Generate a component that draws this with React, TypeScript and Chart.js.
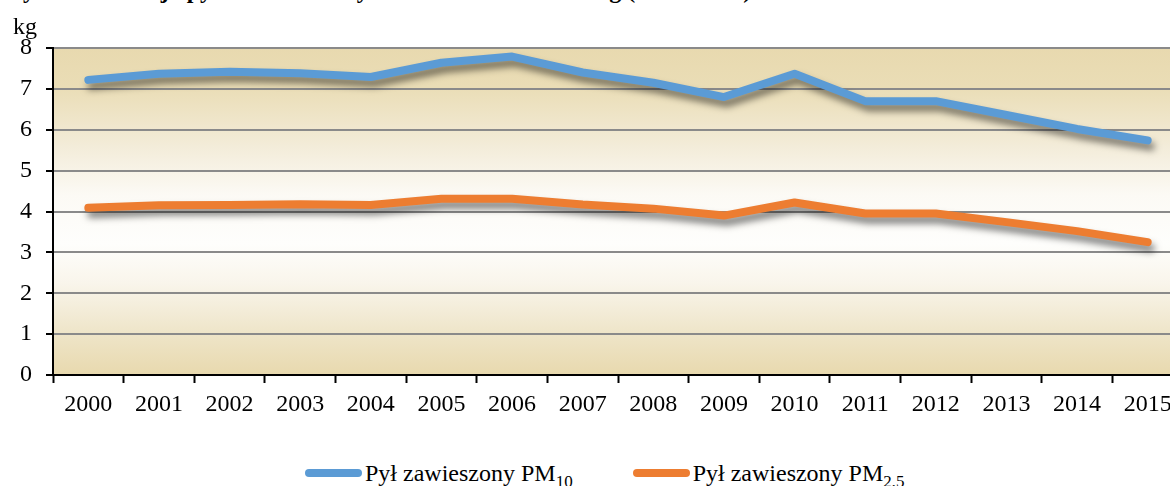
import React, { useEffect, useRef } from "react";
import { Chart, registerables } from "chart.js";

Chart.register(...registerables);

const years = ["2000","2001","2002","2003","2004","2005","2006","2007","2008","2009","2010","2011","2012","2013","2014","2015"];
const pm10 = [7.22, 7.37, 7.42, 7.38, 7.29, 7.64, 7.79, 7.4, 7.15, 6.8, 7.37, 6.7, 6.7, 6.36, 6.02, 5.74];
const pm25 = [4.09, 4.15, 4.16, 4.18, 4.16, 4.31, 4.31, 4.17, 4.07, 3.9, 4.22, 3.95, 3.95, 3.74, 3.52, 3.25];
const seriesNames = ["Pył zawieszony PM", "Pył zawieszony PM"];
const seriesSubs = ["10", "2,5"];
const seriesColors = ["#5B9BD5", "#ED7D31"];
const yTicks = [0, 1, 2, 3, 4, 5, 6, 7, 8];
const unitLabel = "kg";
const titleText = "Wykres 5. Emisja pyłów zawieszonych na 1 mieszkańca w kg (2000–2015)";

const FONT = "'Liberation Serif', 'Times New Roman', serif";

const bgPlugin = {
  id: "bgGradient",
  beforeDraw(chart: any) {
    const { ctx, chartArea } = chart;
    if (!chartArea) return;
    const { left, top, right, bottom } = chartArea;
    const g = ctx.createLinearGradient(0, top, 0, bottom);
    g.addColorStop(0, "#E8D9AF");
    g.addColorStop(0.12, "#EADDB6");
    g.addColorStop(0.3, "#F3ECD9");
    g.addColorStop(0.45, "#FCFAF5");
    g.addColorStop(0.6, "#FEFEFC");
    g.addColorStop(0.72, "#F9F5EB");
    g.addColorStop(0.86, "#EFE6CB");
    g.addColorStop(1, "#E8D9AE");
    ctx.save();
    ctx.fillStyle = g;
    ctx.fillRect(left, top, right - left, bottom - top);
    ctx.restore();
  },
};

const shadowPlugin = {
  id: "lineShadow",
  beforeDatasetsDraw(chart: any) {
    const ctx = chart.ctx;
    ctx.save();
    ctx.shadowColor = "rgba(0,0,0,0.5)";
    ctx.shadowBlur = 7;
    ctx.shadowOffsetX = 3;
    ctx.shadowOffsetY = 6;
  },
  afterDatasetsDraw(chart: any) {
    chart.ctx.restore();
  },
};

export default function App() {
  const ref = useRef<HTMLCanvasElement | null>(null);

  useEffect(() => {
    if (!ref.current) return;
    const chart = new Chart(ref.current, {
      type: "line",
      data: {
        labels: years,
        datasets: [
          {
            label: seriesNames[0] + seriesSubs[0],
            data: pm10,
            borderColor: seriesColors[0],
            backgroundColor: seriesColors[0],
            borderWidth: 8,
            borderCapStyle: "round",
            borderJoinStyle: "round",
            pointRadius: 0,
            tension: 0,
            fill: false,
          },
          {
            label: seriesNames[1] + seriesSubs[1],
            data: pm25,
            borderColor: seriesColors[1],
            backgroundColor: seriesColors[1],
            borderWidth: 8,
            borderCapStyle: "round",
            borderJoinStyle: "round",
            pointRadius: 0,
            tension: 0,
            fill: false,
          },
        ],
      },
      options: {
        responsive: false,
        animation: false,
        devicePixelRatio: 1,
        layout: { padding: { top: 48, left: 0, right: 0, bottom: 0 } },
        plugins: {
          legend: { display: false },
          tooltip: { enabled: false },
          title: { display: false },
        },
        scales: {
          x: {
            type: "category",
            offset: true,
            grid: {
              offset: true,
              drawOnChartArea: false,
              drawTicks: true,
              tickLength: 8,
              tickColor: "#000",
              tickWidth: 2,
            },
            border: { display: true, color: "#000", width: 2 },
            ticks: {
              color: "#000",
              font: { family: FONT, size: 24 },
              padding: 7,
              maxRotation: 0,
              autoSkip: false,
            },
            afterFit(scale: any) {
              scale.height = 55;
            },
          },
          y: {
            min: 0,
            max: 8,
            afterBuildTicks(scale: any) {
              scale.ticks = yTicks.map((v) => ({ value: v }));
            },
            grid: {
              color: "#8A8A8A",
              lineWidth: 2,
              drawTicks: true,
              tickLength: 7,
              tickColor: "#000",
              tickWidth: 2,
            },
            border: { display: true, color: "#000", width: 2 },
            ticks: {
              color: "#000",
              font: { family: FONT, size: 24 },
              padding: 14,
              stepSize: 1,
            },
            afterFit(scale: any) {
              scale.width = 53;
            },
          },
        },
      },
      plugins: [bgPlugin, shadowPlugin],
    });
    return () => chart.destroy();
  }, []);

  return (
    <div
      style={{
        position: "fixed",
        left: 0,
        top: 0,
        width: 1170,
        height: 486,
        overflow: "hidden",
        background: "#fff",
        fontFamily: FONT,
        color: "#000",
      }}
    >
      <div
        style={{
          position: "absolute",
          left: 0,
          top: -22,
          fontSize: 24,
          lineHeight: "24px",
          fontWeight: "bold",
          whiteSpace: "nowrap",
        }}
      >
        {titleText}
      </div>
      <canvas
        ref={ref}
        width={1183}
        height={430}
        style={{ position: "absolute", left: 0, top: 0, width: 1183, height: 430 }}
      />
      <div
        style={{
          position: "absolute",
          left: 13,
          top: 12,
          fontSize: 24,
          lineHeight: "28px",
        }}
      >
        {unitLabel}
      </div>
      <div
        style={{
          position: "absolute",
          left: 305,
          top: 458,
          display: "flex",
          alignItems: "center",
          fontSize: 24,
          lineHeight: "30px",
          whiteSpace: "nowrap",
        }}
      >
        {seriesNames.map((name, i) => (
          <div key={i} style={{ display: "flex", alignItems: "center", marginRight: i === 0 ? 60 : 0 }}>
            <span
              style={{
                display: "inline-block",
                width: 57,
                height: 8,
                borderRadius: 4,
                background: seriesColors[i],
                marginRight: 3,
              }}
            />
            <span>
              {name}
              <sub style={{ fontSize: 17, lineHeight: 0 }}>{seriesSubs[i]}</sub>
            </span>
          </div>
        ))}
      </div>
    </div>
  );
}
